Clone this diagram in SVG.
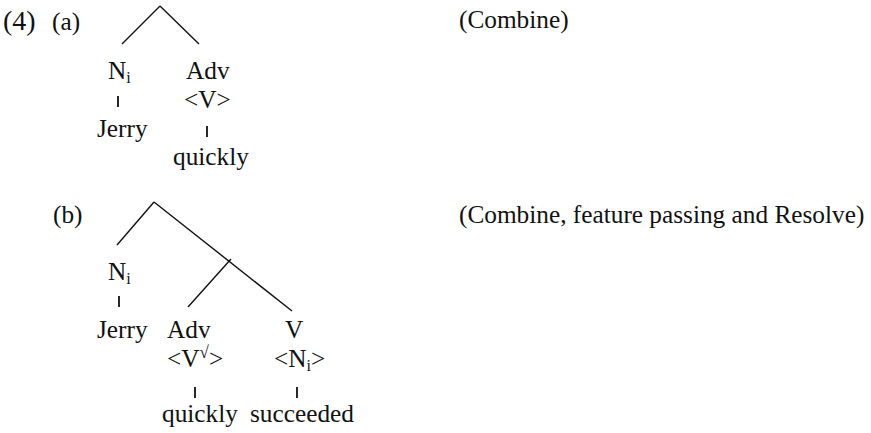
<svg xmlns="http://www.w3.org/2000/svg" width="871" height="433" viewBox="0 0 871 433">
<style>
text{font-family:"Liberation Serif","Times New Roman",serif;font-size:25.3px;fill:#111}
.sub{font-size:16px}
.sup{font-size:17px}
.ln{stroke:#111;stroke-width:1.4;fill:none}
.bar{stroke:#111;stroke-width:1.8;fill:none}
</style>
<rect width="871" height="433" fill="#fff"/>
<g id="labels">
<text x="3" y="30" style="font-size:28px">(4)</text>
<text x="52" y="30">(a)</text>
<text x="53" y="223">(b)</text>
<text x="459" y="28">(Combine)</text>
<text x="459" y="223">(Combine, feature passing and Resolve)</text>
</g>
<g id="connectors">
<path class="ln" d="M160,6 L122,44 M160,6 L199,44"/>
<path class="ln" d="M154,202 L117,245 M154,202 L292,311 M231,259 L188,307"/>
<path class="bar" d="M118,96 V107 M207,126 V137"/>
<path class="bar" d="M119,296 V307 M195,387 V398 M297,387 V398"/>
</g>
<g id="a-Ni"><text x="108" y="79">N<tspan class="sub" dy="4">i</tspan></text></g>
<g id="a-Jerry"><text x="97" y="137">Jerry</text></g>
<g id="a-Adv"><text x="186" y="79">Adv</text><text x="184" y="108">&lt;V&gt;</text></g>
<g id="a-quickly"><text x="173" y="165">quickly</text></g>
<g id="b-Ni"><text x="108" y="280">N<tspan class="sub" dy="4">i</tspan></text></g>
<g id="b-Jerry"><text x="97" y="338">Jerry</text></g>
<g id="b-Adv"><text x="167" y="338">Adv</text><text x="167" y="367">&lt;V<tspan class="sup" dy="-9">√</tspan><tspan dy="9">&gt;</tspan></text></g>
<g id="b-V"><text x="285" y="338">V</text><text x="274" y="367">&lt;N<tspan class="sub" dy="4">i</tspan><tspan dy="-4">&gt;</tspan></text></g>
<g id="b-quickly"><text x="162" y="422">quickly</text></g>
<g id="b-succeeded"><text x="250" y="422">succeeded</text></g>
</svg>
